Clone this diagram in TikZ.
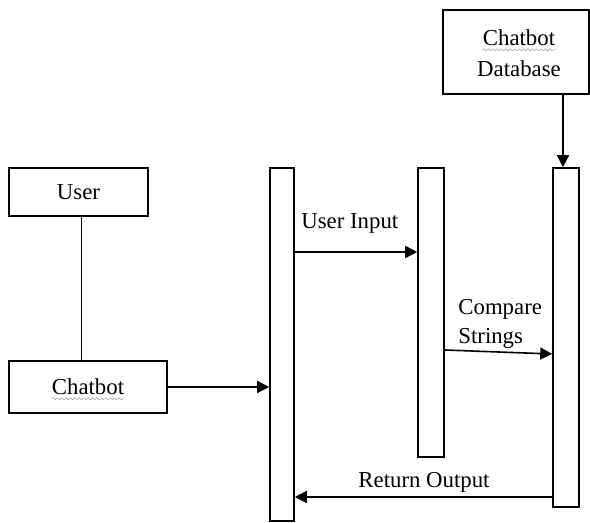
\documentclass[tikz,border=0pt]{standalone}
\usepackage{fontspec}
\setmainfont{Liberation Serif}
\usetikzlibrary{arrows.meta, shapes, decorations.pathmorphing}

\begin{document}
\begin{tikzpicture}[x=0.5pt,y=-0.5pt,font=\fontsize{11.4}{14}\selectfont]
            \useasboundingbox (0,0) rectangle (590,523);
            \begin{scope}[every node/.style={rectangle,draw,line width=0.8pt,fill=white}]
                \node[minimum width=69.5pt,minimum height=24pt] (user) at (78.5,192) {User};
                \node[minimum width=79pt,minimum height=26pt] (bot) at (88,387) {};
                \node[minimum width=73pt,minimum height=42pt] (db) at (516,52) {};
                \node[minimum width=12pt,minimum height=176.5pt] (L1) at (282,344.5) {};
                \node[minimum width=13pt,minimum height=144.5pt] (L2) at (431,312.5) {};
                \node[minimum width=13pt,minimum height=169.5pt] (L3) at (566,337.5) {};
            \end{scope}

            \begin{scope}[every node/.style={inner sep=0pt}]
                \node (bottxt) at (88,387) {Chatbot};
                \node (dbtxt) at (519,38) {Chatbot};
                \node at (519,69) {Database};
                \node[anchor=west] (inlbl) at (301,223) {User Input};
                \node[anchor=west] at (458,309) {Compare};
                \node[anchor=west] at (458,338) {Strings};
                \node (outlbl) at (424,482) {Return Output};
            \end{scope}

            \begin{scope}[gray!70, line width=0.3pt,
                          decoration={snake,amplitude=0.5pt,segment length=2.2pt}]
                \draw[decorate] ([yshift=-2pt]bottxt.base west) -- ([yshift=-2pt]bottxt.base east);
                \draw[decorate] ([yshift=-2pt]dbtxt.base west) -- ([yshift=-2pt]dbtxt.base east);
            \end{scope}

            \begin{scope}[>={Triangle[length=6pt,width=6pt]},
                          every path/.style={draw=black, line width=0.8pt}]
                \draw ([xshift=1.5pt]user.south) -- ([xshift=1.5pt]user.south |- bot.north);
                \draw[->] (bot.east) -- (bot.east -| L1.west);
                \draw[->] ([xshift=-1.5pt]L3.north |- db.south) -- ([xshift=-1.5pt]L3.north);
                \draw[->] (L1.east |- 0,252) -- (L2.west |- 0,252);
                \draw[->] (L2.east |- 0,350) -- (L3.west |- 0,354);
                \draw[->] (L3.west |- 0,497) -- (L1.east |- 0,497);
            \end{scope}
\end{tikzpicture}
\end{document}
